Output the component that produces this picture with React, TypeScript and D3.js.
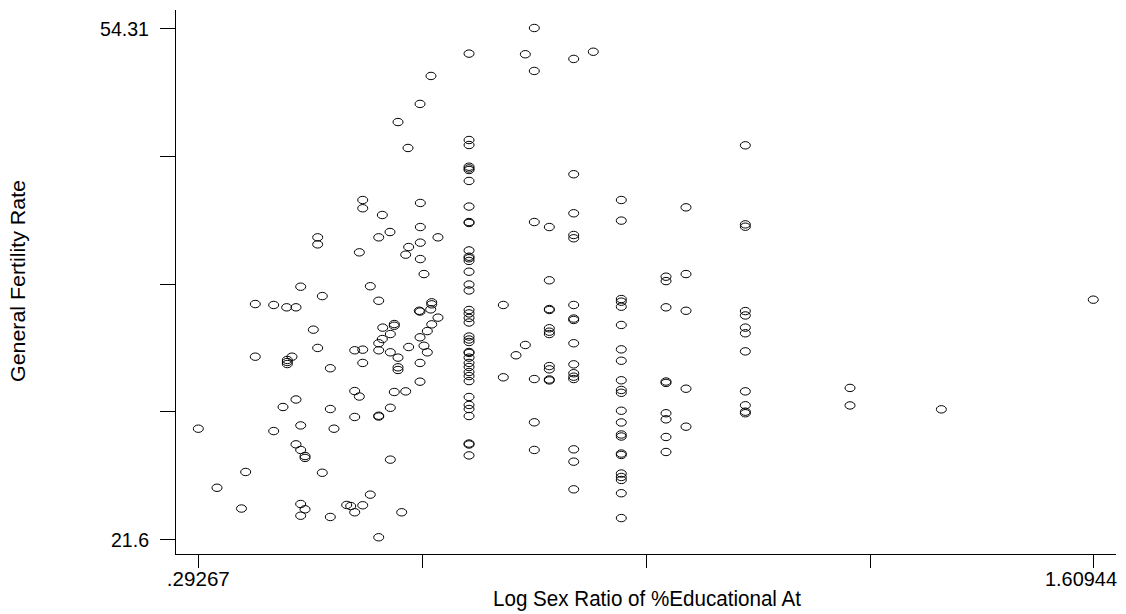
import React from "react";
import * as d3 from "d3";

// ---- data ----
const xTickValues = [0.29267, 0.62186, 0.95106, 1.28025, 1.60944];
const xTickLabels = [".29267", "", "", "", "1.60944"];
const yTickValues = [21.6, 29.7775, 37.955, 46.1325, 54.31];
const yTickLabels = ["21.6", "", "", "", "54.31"];

const xTitle = "Log Sex Ratio of %Educational At";
const yTitle = "General Fertility Rate";

// scattered points (log sex ratio, general fertility rate)
const scatterLogRatio = [
  0.2927, 0.3202, 0.3562, 0.3624, 0.3765, 0.3765, 0.4036, 0.4036, 0.4227, 0.4364,
  0.4433, 0.4236, 0.4236, 0.4236, 0.4305, 0.4364, 0.4173, 0.4433, 0.4364, 0.4433,
  0.4497, 0.4497, 0.4751, 0.4433, 0.4497, 0.4433, 0.4869, 0.4923, 0.4869, 0.5228,
  0.5296, 0.5228, 0.511, 0.5169, 0.5346, 0.5228, 0.5457, 0.5581, 0.5581, 0.5581,
  0.5752, 0.581, 0.5978, 0.5752, 0.5919, 0.6189, 0.5346, 0.5346, 0.6193, 0.5634,
  0.4683, 0.4683, 0.5581, 0.5747, 0.6193, 0.6453, 0.6022, 0.6193, 0.5296, 0.5978,
  0.6193, 0.6247, 0.5457, 0.4751, 0.5581, 0.6361, 0.6361, 0.6346, 0.6178, 0.6189,
  0.6453, 0.6361, 0.581, 0.581, 0.564, 0.6296, 0.5752, 0.5634, 0.5581, 0.6189,
  0.6247, 0.6296, 0.6022, 0.5581, 0.5752, 0.5865, 0.5228, 0.5346, 0.4619, 0.4683,
  0.5346, 0.4869, 0.5865, 0.5865, 0.6189, 0.5865, 0.6012, 0.6189, 0.635,
];
const scatterRate = [
  28.66, 24.88, 23.55, 25.89, 36.64, 33.27, 36.58, 28.51, 36.43, 36.43,
  37.75, 33.06, 32.93, 32.8, 33.27, 30.53, 30.05, 28.87, 27.66, 27.3,
  26.91, 26.79, 25.84, 23.84, 23.5, 23.09, 29.92, 28.66, 23.01, 31.07,
  30.72, 29.41, 23.78, 23.71, 23.76, 23.31, 24.44, 21.71, 29.49, 29.44,
  30.0, 31.01, 31.05, 26.68, 23.31, 31.67, 43.3, 42.77, 43.11, 42.34,
  40.91, 40.46, 40.91, 41.25, 41.57, 40.91, 40.29, 40.57, 39.95, 39.8,
  39.52, 38.56, 37.78, 37.15, 36.85, 36.75, 36.62, 36.3, 36.21, 36.16,
  35.77, 35.34, 35.36, 35.25, 35.13, 34.91, 34.72, 34.4, 34.13, 34.51,
  33.97, 33.55, 33.89, 33.68, 33.55, 33.21, 33.68, 33.72, 35.0, 33.83,
  32.87, 32.53, 32.59, 32.42, 32.87, 48.29, 46.63, 49.45, 51.24,
];

// points that share the same log sex ratio (vertical stacks)
const columnLogRatio = [
  0.691, 0.915, 1.0975, 0.8091, 0.787, 0.7738, 0.845, 0.8738, 0.7414, 0.7601,
  0.9808, 1.0102, 1.2515, 1.3859, 1.6094,
];
const columnRates = [
  [52.67, 47.14, 46.82, 45.43, 45.32, 45.22, 44.52, 42.88, 41.89, 41.83,
   40.07, 39.67, 39.57, 39.4, 38.71, 37.89, 37.51, 36.26, 36.04, 35.75,
   35.46, 34.56, 34.37, 34.21, 33.57, 33.51, 33.21, 32.87, 32.61, 32.29,
   32.03, 31.71, 30.69, 30.18, 29.92, 29.47, 27.71, 27.65, 26.95],
  [43.3, 41.98, 36.96, 36.79, 36.47, 35.3, 33.74, 33.01, 31.76, 31.14,
   30.96, 29.81, 29.06, 28.29, 28.16, 27.07, 26.98, 25.79, 25.57, 25.38,
   24.53, 22.94],
  [46.8, 41.74, 41.59, 36.19, 35.91, 35.13, 34.77, 33.61, 31.05, 30.16,
   29.75, 29.65],
  [41.57, 38.16, 36.32, 36.26, 35.09, 34.87, 34.72, 32.67, 32.46, 31.81, 31.75],
  [54.31, 51.56, 41.89, 31.84, 29.07, 27.3],
  [52.63, 34.02],
  [52.33, 44.95, 42.45, 41.06, 40.85, 36.58, 35.71, 35.62, 34.13, 32.78,
   32.21, 31.99, 31.84, 27.34, 26.55, 24.78],
  [52.79],
  [36.58, 31.95],
  [33.36],
  [38.39, 38.11, 36.43, 31.68, 31.59, 29.65, 29.26, 28.13, 27.17],
  [42.83, 38.56, 36.21, 31.22, 28.79],
  [31.27, 30.15],
  [29.9],
  [36.92],
];

const W = 1126;
const H = 614;
const FONT = "'Liberation Sans', Arial, sans-serif";

export default function App() {
  const x = d3.scaleLinear().domain([0.29267, 1.60944]).range([198.3, 1093.3]);
  const y = d3.scaleLinear().domain([21.6, 54.31]).range([539, 28]);

  const points: { lx: number; r: number }[] = [];
  scatterLogRatio.forEach((lx, i) => points.push({ lx, r: scatterRate[i] }));
  columnLogRatio.forEach((lx, i) =>
    columnRates[i].forEach((r) => points.push({ lx, r }))
  );

  const axisLeft = 175;
  const axisBottom = 554.5;

  return (
    <svg
      width={W}
      height={H}
      style={{ position: "absolute", left: 0, top: 0, background: "#fff" }}
      fontFamily={FONT}
    >
      <rect x={0} y={0} width={W} height={H} fill="#fff" />
      {/* y axis */}
      <line x1={axisLeft + 0.5} x2={axisLeft + 0.5} y1={10} y2={axisBottom} stroke="#000" strokeWidth={1} />
      {yTickValues.map((v, i) => (
        <g key={"yt" + i}>
          <line x1={160} x2={axisLeft} y1={Math.round(y(v)) + 0.5} y2={Math.round(y(v)) + 0.5} stroke="#000" />
          {yTickLabels[i] && (
            <text x={149} y={y(v) + 7.5} fontSize={21} textAnchor="end" fill="#000"
              textLength={yTickLabels[i].length === 5 ? 49 : 38} lengthAdjust="spacingAndGlyphs">
              {yTickLabels[i]}
            </text>
          )}
        </g>
      ))}
      {/* x axis */}
      <line x1={axisLeft} x2={1116} y1={axisBottom} y2={axisBottom} stroke="#000" strokeWidth={1} />
      {xTickValues.map((v, i) => (
        <g key={"xt" + i}>
          <line x1={Math.round(x(v)) + 0.5} x2={Math.round(x(v)) + 0.5} y1={axisBottom} y2={568} stroke="#000" />
          {xTickLabels[i] && (
            <text
              x={i === xTickValues.length - 1 ? 1117 : x(v)}
              y={586}
              fontSize={21}
              textAnchor={i === xTickValues.length - 1 ? "end" : "middle"}
              textLength={i === xTickValues.length - 1 ? 72 : 63}
              lengthAdjust="spacingAndGlyphs"
              fill="#000"
            >
              {xTickLabels[i]}
            </text>
          )}
        </g>
      ))}
      {/* titles */}
      <text x={647} y={606} fontSize={22} textAnchor="middle" textLength={308} lengthAdjust="spacingAndGlyphs" fill="#000">
        {xTitle}
      </text>
      <text
        transform={`translate(25, 281) rotate(-90)`}
        fontSize={21}
        textAnchor="middle"
        textLength={202}
        lengthAdjust="spacingAndGlyphs"
        fill="#000"
      >
        {yTitle}
      </text>
      {/* markers */}
      {points.map((p, i) => (
        <ellipse
          key={i}
          cx={x(p.lx)}
          cy={y(p.r)}
          rx={5}
          ry={3.7}
          fill="none"
          stroke="#000"
          strokeWidth={1}
        />
      ))}
    </svg>
  );
}
